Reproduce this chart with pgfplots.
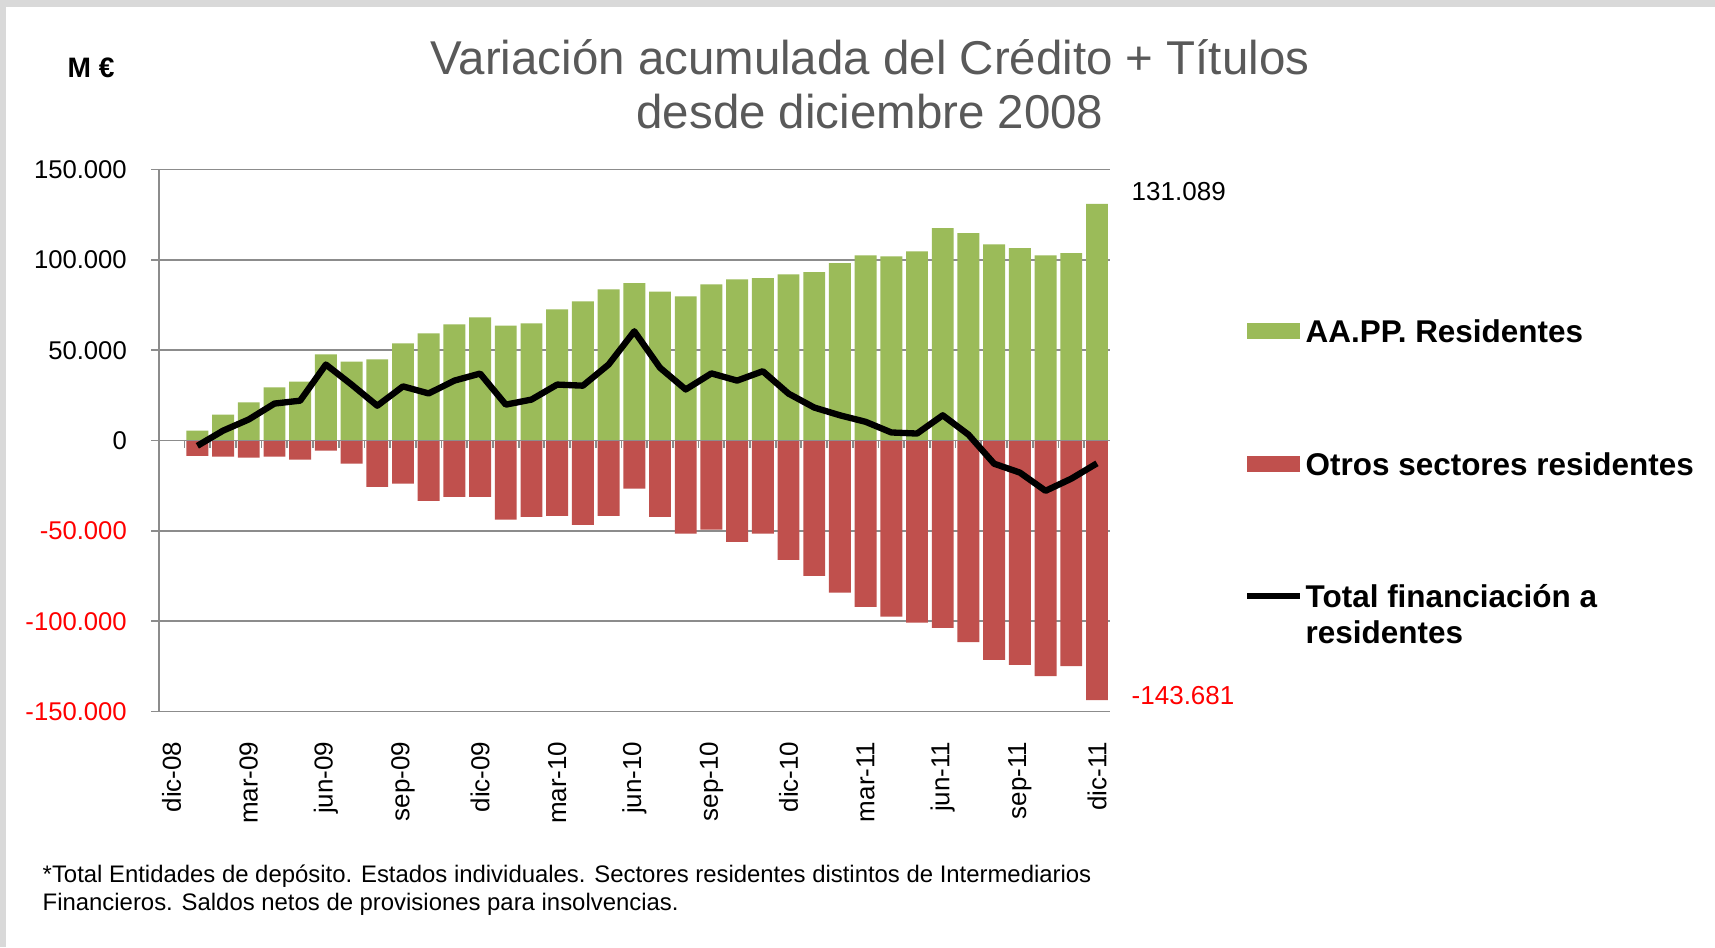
\documentclass[border=0pt]{standalone}
\usepackage{pgfplots}
\usepackage{pgfplotstable}
\pgfplotsset{compat=1.18}
\usepackage{fontspec}
\setmainfont{Liberation Sans}

\definecolor{verde}{HTML}{9BBB59}
\definecolor{rojo}{HTML}{C0504D}
\definecolor{rejilla}{HTML}{8C8C8C}
\definecolor{titulo}{HTML}{595959}
\definecolor{marco}{HTML}{D9D9D9}

% variacion acumulada desde dic-08 (M euros); x = meses desde dic-08
\pgfplotstableread{
x  aapp    otros    total
1  5500    -8400    -2900
2  14400   -8900    5500
3  21100   -9400    11700
4  29400   -8900    20500
5  32600   -10500   22100
6  47700   -5600    42100
7  43700   -12700   31000
8  44900   -25600   19300
9  53800   -23800   30000
10 59400   -33300   26100
11 64300   -31100   33200
12 68200   -31100   37100
13 63700   -43800   19900
14 64900   -42200   22700
15 72600   -41600   31000
16 77000   -46600   30400
17 83700   -41600   42100
18 87100   -26600   60500
19 82500   -42200   40300
20 79800   -51500   28300
21 86500   -49300   37200
22 89200   -56000   33200
23 89900   -51500   38400
24 92000   -66000   26000
25 93200   -74900   18300
26 98200   -84200   14000
27 102500  -92100   10400
28 101900  -97400   4500
29 104700  -100800  3900
30 117600  -103600  14000
31 114800  -111500  3300
32 108600  -121400  -12800
33 106500  -124200  -17700
34 102500  -130300  -27800
35 103700  -124800  -21100
36 131089  -143681  -12592
}\datos

\begin{document}
\begin{tikzpicture}
% marco de la diapositiva
\fill[marco] (0,0) rectangle (17.15,9.47);
\fill[white] (0.06,0) rectangle (17.15,9.40);
\useasboundingbox (0,0) rectangle (17.15,9.47);

\begin{axis}[
    at={(1.588cm,2.354cm)}, anchor=south west,
    scale only axis,
    width=9.51cm, height=5.42cm,
    xmin=-0.5, xmax=36.5,
    ymin=-150000, ymax=150000,
    scaled y ticks=false,
    axis lines*=left,
    axis line style={rejilla, line width=0.5pt},
    ymajorgrids,
    grid style={rejilla, line width=0.5pt},
    tick align=outside,
    major tick length=0.076cm,
    ytick style={rejilla, line width=0.5pt},
    xtick style={draw=none},
    ytick={-150000,-100000,-50000,0,50000,100000,150000},
    yticklabels={\textcolor{red}{-150.000},\textcolor{red}{-100.000},\textcolor{red}{-50.000},0,50.000,100.000,150.000},
    yticklabel style={font=\fontsize{7.3}{8}\selectfont, xshift=-0.12cm},
    xtick={0,3,...,36},
    xticklabels={dic-08,mar-09,jun-09,sep-09,dic-09,mar-10,jun-10,sep-10,dic-10,mar-11,jun-11,sep-11,dic-11},
    xticklabel style={font=\fontsize{7.4}{8}\selectfont, rotate=90, anchor=east},
    xticklabel shift=0.1cm,
    clip=false,
]
\addplot[ybar, bar width=0.219cm, bar shift=0pt, fill=verde, draw=none] table[x=x, y=aapp] {\datos};
\addplot[ybar, bar width=0.219cm, bar shift=0pt, fill=rojo, draw=none] table[x=x, y=otros] {\datos};

% eje de categorias en cero
\draw[rejilla, line width=0.5pt] (axis cs:-0.5,0) -- (axis cs:36.5,0);
\pgfplotsinvokeforeach{0,...,35}{
  \draw[rejilla, line width=0.5pt] (axis cs:#1+0.5,0) -- ([yshift=-0.07cm]axis cs:#1+0.5,0);
}

\addplot[black, line width=1.8pt, line join=round, mark=none] table[x=x, y=total] {\datos};
\end{axis}

% titulo
\node[anchor=base, inner sep=0, text=titulo, font=\fontsize{13.5}{16}\selectfont] at (8.70,8.726) {Variación acumulada del Crédito + Títulos};
\node[anchor=base, inner sep=0, text=titulo, font=\fontsize{13.5}{16}\selectfont] at (8.70,8.18) {desde diciembre 2008};
\node[inner sep=0, font=\bfseries\fontsize{8}{10}\selectfont] at (0.91,8.79) {M €};

% valores finales
\node[anchor=base west, inner sep=0, font=\fontsize{7.4}{9}\selectfont] at (11.31,7.46) {131.089};
\node[anchor=base west, inner sep=0, text=red, font=\fontsize{7.4}{9}\selectfont] at (11.31,2.42) {-143.681};

% leyenda
\fill[verde] (12.47,6.08) rectangle (13.00,6.24);
\node[anchor=base west, inner sep=0, font=\bfseries\fontsize{8.95}{10.5}\selectfont] at (13.05,6.04) {AA.PP. Residentes};
\fill[rojo] (12.47,4.75) rectangle (13.00,4.91);
\node[anchor=base west, inner sep=0, font=\bfseries\fontsize{8.95}{10.5}\selectfont] at (13.05,4.71) {Otros sectores residentes};
\draw[black, line width=1.8pt] (12.47,3.51) -- (13.00,3.51);
\node[anchor=base west, inner sep=0, font=\bfseries\fontsize{8.95}{10.5}\selectfont] at (13.05,3.39) {Total financiación a};
\node[anchor=base west, inner sep=0, font=\bfseries\fontsize{8.95}{10.5}\selectfont] at (13.05,3.03) {residentes};

% nota
\node[anchor=base west, inner sep=0, font=\fontsize{6.8}{8}\selectfont] at (0.42,0.65) {*Total Entidades de depósito. Estados individuales. Sectores residentes distintos de Intermediarios};
\node[anchor=base west, inner sep=0, font=\fontsize{6.8}{8}\selectfont] at (0.42,0.36) {Financieros. Saldos netos de provisiones para insolvencias.};
\end{tikzpicture}
\end{document}
